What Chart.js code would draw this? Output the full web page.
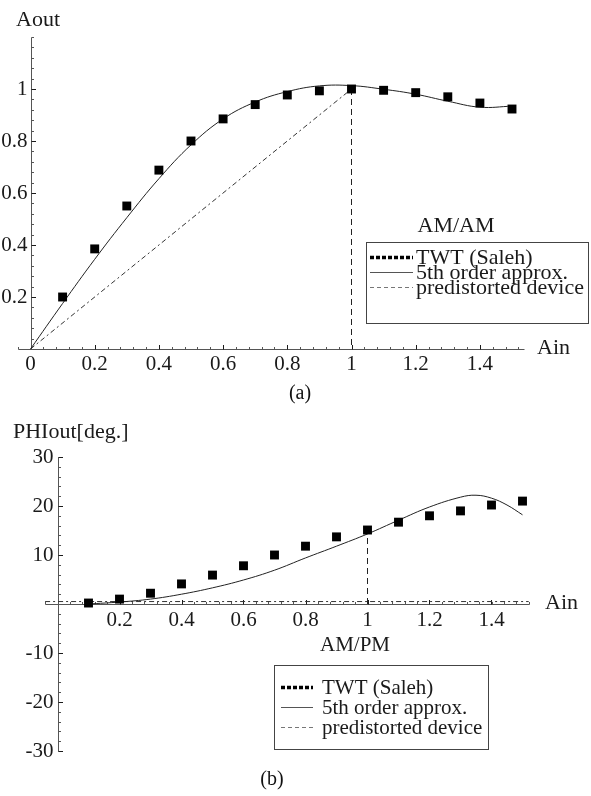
<!DOCTYPE html>
<html>
<head>
<meta charset="utf-8">
<script src="https://cdn.jsdelivr.net/npm/chart.js@4.4.1/dist/chart.umd.min.js"></script>
<style>
    body { margin: 0; background: #fff; width: 591px; height: 796px; position: relative; overflow: hidden; }
    canvas { position: absolute; left: 0; }
    #amam { top: 0; }
    #ampm { top: 400px; }
    .caption { position: absolute; font: 20px "Liberation Serif", "DejaVu Serif", serif; color: #111; transform: translate(-50%, -50%); }
</style>
</head>
<body>
<canvas id="amam" width="591" height="400"></canvas>
<canvas id="ampm" width="591" height="396"></canvas>
<div class="caption" style="left:300px; top:392px;">(a)</div>
<div class="caption" style="left:272px; top:778px;">(b)</div>
<script>
// input amplitude of the measured TWT points
const ampIn = [0.1, 0.2, 0.3, 0.4, 0.5, 0.6, 0.7, 0.8, 0.9, 1.0, 1.1, 1.2, 1.3, 1.4, 1.5];

// AM/AM
const twtAmAm = [0.2, 0.385, 0.55, 0.688, 0.80, 0.885, 0.94, 0.977, 0.993, 1.0, 0.995, 0.986, 0.97, 0.946, 0.923];
const fitAmAmX = [0, 0.1, 0.2, 0.3, 0.4, 0.5, 0.6, 0.7, 0.8, 0.9, 1.0, 1.1, 1.2, 1.3, 1.4, 1.5];
const fitAmAm = [0, 0.175, 0.345, 0.505, 0.655, 0.785, 0.885, 0.95, 0.99, 1.012, 1.013, 0.999, 0.98, 0.953, 0.93, 0.934];
const preAmAmX = [0, 1];
const preAmAm = [0, 1];

// AM/PM (degrees)
const twtAmPm = [0.2, 1.0, 2.2, 4.1, 5.9, 7.8, 10.0, 11.8, 13.7, 15.1, 16.7, 18.0, 19.0, 20.2, 21.0];
const fitAmPmX = [0.1, 0.2, 0.3, 0.4, 0.5, 0.6, 0.7, 0.8, 0.9, 1.0, 1.1, 1.2, 1.3, 1.35, 1.4, 1.45, 1.5];
const fitAmPm = [0, 0.4, 1.0, 2.0, 3.3, 4.9, 6.9, 9.4, 11.8, 14.3, 17.1, 19.8, 21.8, 22.2, 21.6, 20.2, 18.2];
const preAmPmX = [-0.04, 1.52];
const preAmPm = [0.5, 0.5];

// tick labels
const amamXTicks = [0, 0.2, 0.4, 0.6, 0.8, 1, 1.2, 1.4];
const amamXLabels = ['0', '0.2', '0.4', '0.6', '0.8', '1', '1.2', '1.4'];
const amamYTicks = [0.2, 0.4, 0.6, 0.8, 1];
const amamYLabels = ['0.2', '0.4', '0.6', '0.8', '1'];
const ampmXTicks = [0.2, 0.4, 0.6, 0.8, 1, 1.2, 1.4];
const ampmXLabels = ['0.2', '0.4', '0.6', '0.8', '1', '1.2', '1.4'];
const ampmYTicks = [30, 20, 10, -10, -20, -30];
const ampmYLabels = ['30', '20', '10', '-10', '-20', '-30'];

const legendNames = ['TWT (Saleh)', '5th order approx.', 'predistorted device'];

const SERIF = '"Liberation Serif", "DejaVu Serif", serif';
const INK = '#1a1a1a';

function pts(xs, ys) {
    return xs.map((x, i) => ({ x: x, y: ys[i] }));
}

/**
 * Mathematica style axes crossing at the origin, ticks pointing into the plot
 */
const mathAxes = {
    id: 'mathAxes',
    beforeDatasetsDraw(chart, args, o) {
        const ctx = chart.ctx;
        const sx = chart.scales.x, sy = chart.scales.y;
        const px = v => Math.round(sx.getPixelForValue(v)) + 0.5;
        const py = v => Math.round(sy.getPixelForValue(v)) + 0.5;
        const x0 = px(0), y0 = py(0);

        ctx.save();
        ctx.strokeStyle = INK;
        ctx.lineWidth = 1;
        ctx.beginPath();
        ctx.moveTo(px(o.xFrom), y0);
        ctx.lineTo(px(o.xTo), y0);
        ctx.moveTo(x0, py(o.yFrom));
        ctx.lineTo(x0, py(o.yTo));

        // minor ticks
        ctx.strokeStyle = '#555';
        for (let i = Math.ceil(o.xFrom / o.xMinor); i * o.xMinor <= o.xTo + 1e-9; i++) {
            if (i === 0) continue;
            const p = px(i * o.xMinor);
            ctx.moveTo(p, y0);
            ctx.lineTo(p, y0 - 2.5);
        }
        for (let i = Math.ceil(o.yFrom / o.yMinor); i * o.yMinor <= o.yTo + 1e-9; i++) {
            if (i === 0) continue;
            const p = py(i * o.yMinor);
            ctx.moveTo(x0, p);
            ctx.lineTo(x0 + 2.5, p);
        }
        ctx.stroke();

        // major ticks
        ctx.beginPath();
        ctx.strokeStyle = INK;
        o.xTicks.forEach(v => { if (v !== 0) { ctx.moveTo(px(v), y0); ctx.lineTo(px(v), y0 - 4.5); } });
        o.yTicks.forEach(v => { ctx.moveTo(x0, py(v)); ctx.lineTo(x0 + 4.5, py(v)); });
        ctx.stroke();

        // tick labels
        ctx.fillStyle = INK;
        ctx.font = o.font;
        ctx.textAlign = 'center';
        ctx.textBaseline = 'middle';
        o.xTicks.forEach((v, i) => ctx.fillText(o.xLabels[i], sx.getPixelForValue(v), y0 + o.xLabelGap));
        ctx.textAlign = 'right';
        o.yTicks.forEach((v, i) => ctx.fillText(o.yLabels[i], x0 - o.yLabelGap, sy.getPixelForValue(v)));

        // axis titles
        ctx.font = o.titleFont;
        ctx.textAlign = 'left';
        ctx.fillText(o.xTitle, o.xTitlePos[0], o.xTitlePos[1]);
        ctx.fillText(o.yTitle, o.yTitlePos[0], o.yTitlePos[1]);
        ctx.restore();
    }
};

/**
 * Framed legend with a caption above it
 */
const boxLegend = {
    id: 'boxLegend',
    afterDraw(chart, args, o) {
        const ctx = chart.ctx;
        ctx.save();
        ctx.fillStyle = INK;
        ctx.font = o.font;
        ctx.textBaseline = 'middle';
        if (o.title) {
            ctx.textAlign = 'center';
            ctx.fillText(o.title, o.titlePos[0], o.titlePos[1]);
        }
        ctx.strokeStyle = '#444';
        ctx.lineWidth = 1;
        ctx.strokeRect(o.box[0] + 0.5, o.box[1] + 0.5, o.box[2], o.box[3]);

        const styles = [
            { w: 3.5, dash: [4, 2], color: '#000' },
            { w: 1, dash: [], color: '#555' },
            { w: 1, dash: [4, 3], color: '#777' }
        ];
        ctx.textAlign = 'left';
        legendNames.forEach((name, i) => {
            const y = o.firstY + i * o.step;
            const s = styles[i];
            ctx.beginPath();
            ctx.setLineDash(s.dash);
            ctx.lineWidth = s.w;
            ctx.strokeStyle = s.color;
            ctx.moveTo(o.lineX[0], Math.round(y) + 0.5);
            ctx.lineTo(o.lineX[1], Math.round(y) + 0.5);
            ctx.stroke();
            ctx.setLineDash([]);
            ctx.fillText(name, o.textX, y + 1);
        });
        ctx.restore();
    }
};

function datasetsFor(twt, fitX, fit, preX, pre, guide) {
    return [
        {
            label: legendNames[0],
            data: pts(ampIn, twt),
            showLine: false,
            pointStyle: 'rect',
            pointRadius: 6.3,
            backgroundColor: '#000',
            borderWidth: 0,
            clip: false,
            order: 0
        },
        {
            label: legendNames[1],
            data: pts(fitX, fit),
            showLine: true,
            pointRadius: 0,
            tension: 0.4,
            borderColor: '#222',
            borderWidth: 1,
            clip: false,
            order: 1
        },
        {
            label: legendNames[2],
            data: pts(preX, pre),
            showLine: true,
            pointRadius: 0,
            borderColor: '#333',
            borderWidth: 1,
            borderDash: [5, 3, 2, 3],
            clip: false,
            order: 2
        },
        {
            label: 'guide',
            data: guide,
            showLine: true,
            pointRadius: 0,
            borderColor: '#222',
            borderWidth: 1,
            borderDash: [6, 4],
            clip: false,
            order: 3
        }
    ];
}

function baseOptions(xMax, yMin, yMax, padding) {
    return {
        responsive: false,
        animation: false,
        layout: { padding: padding },
        scales: {
            x: { type: 'linear', min: 0, max: xMax, display: false },
            y: { type: 'linear', min: yMin, max: yMax, display: false }
        },
        plugins: {
            legend: { display: false },
            tooltip: { enabled: false }
        }
    };
}

document.addEventListener('DOMContentLoaded', function() {
    const tickFont = '21px ' + SERIF;

    // x = 1 lands on a whole pixel (351) so the guide line stays crisp
    const amamOptions = baseOptions(1.5, 0, 1.2, { left: 30.5, right: 79, top: 37, bottom: 51 });
    amamOptions.plugins.mathAxes = {
        xFrom: -0.04, xTo: 1.536, yFrom: 0, yTo: 1.2,
        xMinor: 0.04, yMinor: 0.04,
        xTicks: amamXTicks, xLabels: amamXLabels,
        yTicks: amamYTicks, yLabels: amamYLabels,
        xLabelGap: 15, yLabelGap: 4,
        font: tickFont, titleFont: '22px ' + SERIF,
        xTitle: 'Ain', xTitlePos: [537, 348],
        yTitle: 'Aout', yTitlePos: [16, 20]
    };
    amamOptions.plugins.boxLegend = {
        font: '22px ' + SERIF,
        title: 'AM/AM', titlePos: [456, 226],
        box: [366, 242, 222, 81],
        firstY: 257, step: 15,
        lineX: [370, 413], textX: 416
    };

    new Chart(document.getElementById('amam').getContext('2d'), {
        type: 'scatter',
        data: { datasets: datasetsFor(twtAmAm, fitAmAmX, fitAmAm, preAmAmX, preAmAm, [{ x: 1, y: 1 }, { x: 1, y: 0 }]) },
        options: amamOptions,
        plugins: [mathAxes, boxLegend]
    });

    const ampmOptions = baseOptions(1.5, -30, 30, { left: 57.5, right: 68.5, top: 57, bottom: 45 });
    ampmOptions.plugins.mathAxes = {
        xFrom: -0.04, xTo: 1.52, yFrom: -30, yTo: 30,
        xMinor: 0.04, yMinor: 2,
        xTicks: ampmXTicks, xLabels: ampmXLabels,
        yTicks: ampmYTicks, yLabels: ampmYLabels,
        xLabelGap: 16, yLabelGap: 5,
        font: tickFont, titleFont: '22px ' + SERIF,
        xTitle: 'Ain', xTitlePos: [545, 203],
        yTitle: 'PHIout[deg.]', yTitlePos: [13, 32]
    };
    ampmOptions.plugins.boxLegend = {
        font: '21px ' + SERIF,
        title: 'AM/PM', titlePos: [355, 245],
        box: [274, 265, 214, 84],
        firstY: 287, step: 20,
        lineX: [281, 313], textX: 322
    };

    new Chart(document.getElementById('ampm').getContext('2d'), {
        type: 'scatter',
        data: { datasets: datasetsFor(twtAmPm, fitAmPmX, fitAmPm, preAmPmX, preAmPm, [{ x: 1, y: 0 }, { x: 1, y: 15 }]) },
        options: ampmOptions,
        plugins: [mathAxes, boxLegend]
    });
});
</script>
</body>
</html>
